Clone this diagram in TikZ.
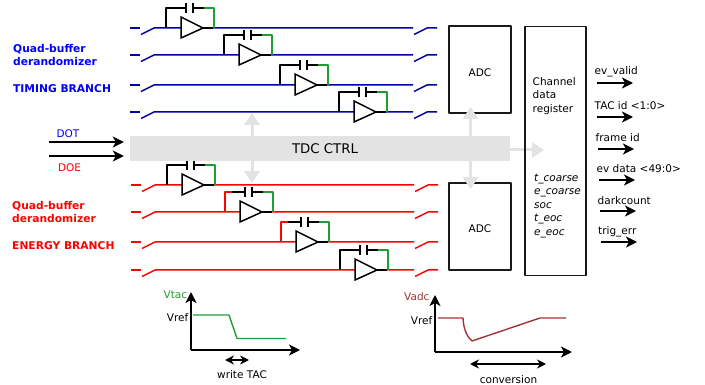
\documentclass[tikz,border=0pt]{standalone}
\usepackage{fontspec}
\setmainfont{DejaVu Sans}
\usepackage{pgf,tikz}
\usetikzlibrary{arrows.meta}
\definecolor{timingblue}{rgb}{0.,0.,0.65}
\definecolor{labelblue}{rgb}{0.,0.,1.}
\definecolor{energyred}{rgb}{1.,0.,0.}
\definecolor{fbgreen}{rgb}{0.13,0.62,0.2}
\definecolor{ctrlgray}{rgb}{0.89,0.89,0.89}
\definecolor{adcbrown}{rgb}{0.63,0.2,0.2}
\tikzset{
  txt/.style={inner sep=0pt,yshift=-1pt,font=\fontsize{10.5}{13.5}\selectfont},
  lefttxt/.style={txt,anchor=west,align=left},
  branchtxt/.style={lefttxt,font=\fontsize{10.7}{13.8}\selectfont\bfseries},
  box/.style={draw=black!90,line width=1.5pt,minimum width=#1,inner sep=0pt},
  sig/.style={-{Stealth[length=11pt,width=11pt,inset=3pt]},line width=1.6pt},
  both/.style={{Stealth[length=9pt,width=9pt,inset=3pt]}-{Stealth[length=9pt,width=9pt,inset=3pt]},line width=1.5pt},
  ctrl/.style={-{Stealth[length=12pt,width=15pt,inset=0pt]},draw=ctrlgray,line width=3pt},
  wire/.style={line width=1.5pt}
}
% #1,#2: where the feedback leaves the line, #3: colour of its first part
\newcommand{\tacbuffer}[3]{
\draw[wire,#3] (#1,#2) -- (#1,#2-20) -- (#1+7,#2-20);
\draw[wire,black] (#1+7,#2-20) -- (#1+20,#2-20);
\draw[wire,black] (#1+20,#2-25) -- (#1+20,#2-15);
\draw[wire,black] (#1+27,#2-25) -- (#1+27,#2-15);
\draw[wire,black] (#1+27,#2-20) -- (#1+38,#2-20);
\draw[wire,fbgreen] (#1+38,#2-20) -- (#1+48,#2-20) -- (#1+48,#2);
\draw[wire,black,fill=white,line join=miter] (#1+15,#2-11) -- (#1+37,#2) -- (#1+15,#2+10) -- cycle;
\draw[wire,black] (#1+37,#2) -- (#1+47,#2);
}
\begin{document}
\begin{tikzpicture}[line cap=butt,line join=round,x=1pt,y=-1pt]
\useasboundingbox (0,0) rectangle (705,385);
% quad buffer lines
\foreach \y in {28,55,85,112}{
\draw[wire,timingblue] (130,\y) -- (140,\y);
\draw[wire,timingblue] (141,\y+6.5) -- (154,\y) -- (413,\y);
\draw[wire,timingblue] (414,\y+6.5) -- (427,\y) -- (437,\y);
}
\foreach \y in {185,212,242,270}{
\draw[wire,energyred] (131,\y) -- (141,\y);
\draw[wire,energyred] (142,\y+6.5) -- (155,\y) -- (414,\y);
\draw[wire,energyred] (415,\y+6.5) -- (428,\y) -- (438,\y);
}
\tacbuffer{166}{28}{black}
\tacbuffer{224}{55}{black}
\tacbuffer{280}{85}{black}
\tacbuffer{339}{112}{black}
\tacbuffer{167}{185}{black}
\tacbuffer{225}{212}{energyred}
\tacbuffer{281}{242}{energyred}
\tacbuffer{340}{270}{black}
% labels
\node[branchtxt,text=labelblue] (quadtiming) at (13,54) {Quad-buffer\\derandomizer};
\node[branchtxt,text=labelblue] (timing) at (13,88) {TIMING BRANCH};
\node[branchtxt,text=energyred] (quadenergy) at (12,211) {Quad-buffer\\derandomizer};
\node[branchtxt,text=energyred] (energy) at (12,245) {ENERGY BRANCH};
% blocks
\node[fill=ctrlgray,minimum width=380pt,minimum height=25pt,inner sep=0pt,font=\fontsize{13.3}{15}\selectfont] (tdcctrl) at (320,148.5) {\hspace{10pt}TDC CTRL};
\node[box=62pt,minimum height=87pt] (adctop) at (480,69.5) {};
\node[box=62pt,minimum height=87pt] (adcbottom) at (480,226.5) {};
\node[txt] (adctoplabel) at (480,72) {ADC};
\node[txt] (adcbottomlabel) at (480,228) {ADC};
\coordinate (upA) at (252,113);
\coordinate (downA) at (252,183);
\coordinate (upB) at (470.5,107);
\coordinate (downB) at (470.5,189);
\coordinate (outC) at (544,150);
\draw[ctrl] (upA |- tdcctrl.north) -- (upA);
\draw[ctrl] (downA |- tdcctrl.south) -- (downA);
\draw[ctrl] (upB |- tdcctrl.north) -- (upB);
\draw[ctrl] (downB |- tdcctrl.south) -- (downB);
\draw[ctrl] (outC -| tdcctrl.east) -- (outC);
\node[box=61pt,minimum height=249pt] (register) at (555.5,151) {};
\node[lefttxt] (regname) at (532.5,95) {Channel\\data\\register};
\node[lefttxt,font=\fontsize{10.5}{13.5}\selectfont\itshape] (regfields) at (534,205) {t\_coarse\\e\_coarse\\soc\\t\_eoc\\e\_eoc};
% inputs
\coordinate (dotin) at (49,142);
\coordinate (doein) at (49,156);
\draw[sig,shorten >=6pt] (dotin) -- (dotin -| tdcctrl.west);
\draw[sig,shorten >=6pt] (doein) -- (doein -| tdcctrl.west);
\node[txt,text=labelblue] (dot) at (68,133) {DOT};
\node[txt,text=energyred] (doe) at (69.5,167) {DOE};
% outputs
\node[lefttxt] (evvalid) at (594.5,71) {ev\_valid};
\node[lefttxt] (tacid) at (594.5,105) {TAC id <1:0>};
\node[lefttxt] (frameid) at (595.5,137) {frame id};
\node[lefttxt] (evdata) at (596.5,168) {ev data <49:0>};
\node[lefttxt] (darkcount) at (597.5,199.5) {darkcount};
\node[lefttxt] (trigerr) at (598,231) {trig\_err};
\foreach \n/\xa/\xb/\y in {a/597/633/83,b/597/633/117,c/598/634/149,d/599/635/180,e/600/636/211,f/600.5/637/242}{
\coordinate (out\n) at (\xa,\y);
\coordinate (end\n) at (\xb,\y);
\draw[sig] (out\n) -- (end\n);
}
% Vtac plot
\coordinate (orgtac) at (191,350);
\coordinate (toptac) at (191,292);
\coordinate (righttac) at (300,350);
\draw[sig] (orgtac) -- (toptac);
\draw[sig] (orgtac) -- (righttac);
\draw[line width=1.4pt,color=fbgreen] (193,315) -- (229,315) -- (237,338.5) -- (286,338.5);
\node[txt,text=fbgreen,anchor=west] (vtac) at (163.5,293.5) {Vtac};
\node[txt,anchor=east] (vreftac) at (188.5,317) {Vref};
\coordinate (writeA) at (225,360);
\coordinate (writeB) at (249,360);
\draw[both] (writeA) -- (writeB);
\node[txt] (writetac) at (242,374) {write TAC};
% Vadc plot
\coordinate (orgadc) at (435,352);
\coordinate (topadc) at (435,295);
\coordinate (rightadc) at (572,352);
\draw[sig] (orgadc) -- (topadc);
\draw[sig] (orgadc) -- (rightadc);
\draw[line width=1.4pt,color=adcbrown] (438,318) -- (463,318) .. controls (463.5,329) and (467,337) .. (472,341) -- (540,318) -- (566,318);
\node[txt,text=adcbrown,anchor=west] (vadc) at (404,296) {Vadc};
\node[txt,anchor=east] (vrefadc) at (432.5,320) {Vref};
\coordinate (convA) at (470,364);
\coordinate (convB) at (546,364);
\draw[both] (convA) -- (convB);
\node[txt] (conversion) at (508.5,379) {conversion};
\end{tikzpicture}
\end{document}
